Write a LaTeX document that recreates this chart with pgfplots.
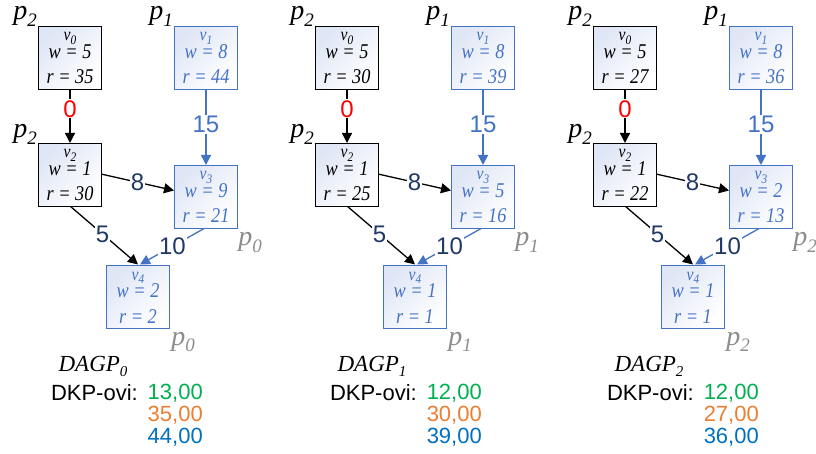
\documentclass[border=0pt]{standalone}
\usepackage{pgfplots}
\pgfplotsset{compat=1.18}
\usepackage{fontspec}
\setmainfont{Liberation Serif}
\newfontfamily\arial{Liberation Sans}
\usetikzlibrary{arrows.meta}
\definecolor{bblue}{HTML}{4472C4}
\definecolor{navy}{HTML}{1F3864}
\definecolor{dgreen}{HTML}{00B050}
\definecolor{dorange}{HTML}{ED7D31}
\definecolor{dblue}{HTML}{0070C0}
\definecolor{shadeblue}{HTML}{DFE6F5}
\definecolor{pgrey}{HTML}{8C8C8C}

\newcommand{\sub}[2]{\raisebox{-0.22em}{\fontsize{#1}{#1}\selectfont #2}}
\newcommand{\boxfont}{\fontsize{21}{22}\selectfont\itshape}
\newcommand{\vfont}{\fontsize{18}{20}\selectfont\itshape}
\newcommand{\pfont}{\fontsize{28}{30}\selectfont\itshape}
\newcommand{\efont}{\arial\fontsize{24}{26}\selectfont}
\newcommand{\dfont}{\arial\fontsize{22}{24}\selectfont}
\newcommand{\nar}[1]{\scalebox{0.87}[1]{#1}}

% x-center, y-top, colour, index, w, r
\newcommand{\vnode}[6]{%
  \node[draw=#3, line width=1.2pt, top color=shadeblue, bottom color=white, shading angle=45,
        minimum width=63pt, minimum height=63pt, inner sep=0pt, anchor=north] at (axis cs:#1,#2) {};
  \node[text=#3, font=\vfont, inner sep=0pt, anchor=base] at (axis cs:#1,{#2+15}) {\nar{v\sub{13}{#4}}};
  \node[text=#3, font=\boxfont, inner sep=0pt, anchor=base] at (axis cs:#1,{#2+33}) {\nar{w = #5}};
  \node[text=#3, font=\boxfont, inner sep=0pt, anchor=base] at (axis cs:#1,{#2+58}) {\nar{r = #6}};
}
\newcommand{\plabel}[4]{% x baseline colour idx
  \node[text=#3, font=\pfont, inner sep=0pt, anchor=base] at (axis cs:#1,#2) {p\sub{19}{#4}};
}
\tikzset{edge/.style={line width=1.3pt, -{Triangle[length=10pt,width=10pt]}},
         elab/.style={fill=white, inner sep=1pt, font=\efont}}

% offset, v0r, v1r, v2r, v3w, v3r, v4w, v4r, p-index
\newcommand{\panel}[9]{%
  \plabel{{#1+25}}{20}{black}{2}
  \plabel{{#1+161}}{20}{black}{1}
  \plabel{{#1+25}}{138}{black}{2}
  \plabel{{#1+250}}{246}{pgrey}{#9}
  \plabel{{#1+183}}{345}{pgrey}{#9}
  \draw[edge, black] (axis cs:{#1+70},89) -- (axis cs:{#1+70},143)
      node[elab, text=red, pos=0.37] {0};
  \draw[edge, bblue] (axis cs:{#1+206},89) -- (axis cs:{#1+206},165)
      node[elab, text=bblue, pos=0.47] {15};
  \draw[edge, black] (axis cs:{#1+101},174) -- (axis cs:{#1+174},190.5)
      node[elab, text=navy, pos=0.5] {8};
  \draw[edge, black] (axis cs:{#1+70},206) -- (axis cs:{#1+138},264.5)
      node[elab, text=navy, pos=0.48] {5};
  \draw[edge, bblue] (axis cs:{#1+205},228) -- (axis cs:{#1+140},264.5)
      node[elab, text=navy, pos=0.5] {10};
  \vnode{{#1+70}}{26}{black}{0}{5}{#2}
  \vnode{{#1+206}}{26}{bblue}{1}{8}{#3}
  \vnode{{#1+70}}{143}{black}{2}{1}{#4}
  \vnode{{#1+206}}{165}{bblue}{3}{#5}{#6}
  \vnode{{#1+138}}{265}{bblue}{4}{#7}{#8}
}
% offset, index, three values
\newcommand{\dkp}[5]{%
  \node[font=\fontsize{23}{25}\selectfont\itshape, inner sep=0pt] at (axis cs:{#1+93},366) {DAGP\sub{15}{#2}};
  \node[font=\dfont, anchor=east, inner sep=0pt] at (axis cs:{#1+138},393) {DKP-ovi:};
  \node[font=\dfont, anchor=east, inner sep=0pt, text=dgreen] at (axis cs:{#1+203},393) {#3};
  \node[font=\dfont, anchor=east, inner sep=0pt, text=dorange] at (axis cs:{#1+203},415) {#4};
  \node[font=\dfont, anchor=east, inner sep=0pt, text=dblue] at (axis cs:{#1+203},437) {#5};
}

\begin{document}
\begin{tikzpicture}
\useasboundingbox (0,0) rectangle (816pt,454pt);
\begin{axis}[
  scale only axis, width=816pt, height=454pt,
  xmin=0, xmax=816, ymin=0, ymax=454, y dir=reverse,
  hide axis, clip=false, anchor=south west, at={(0,0)}]
\addplot[draw=none] coordinates {(0,0) (816,454)};
\panel{0}{35}{44}{30}{9}{21}{2}{2}{0}
\panel{277}{30}{39}{25}{5}{16}{1}{1}{1}
\panel{555}{27}{36}{22}{2}{13}{1}{1}{2}
\dkp{0}{0}{13,00}{35,00}{44,00}
\dkp{279}{1}{12,00}{30,00}{39,00}
\dkp{556}{2}{12,00}{27,00}{36,00}
\end{axis}
\end{tikzpicture}
\end{document}
